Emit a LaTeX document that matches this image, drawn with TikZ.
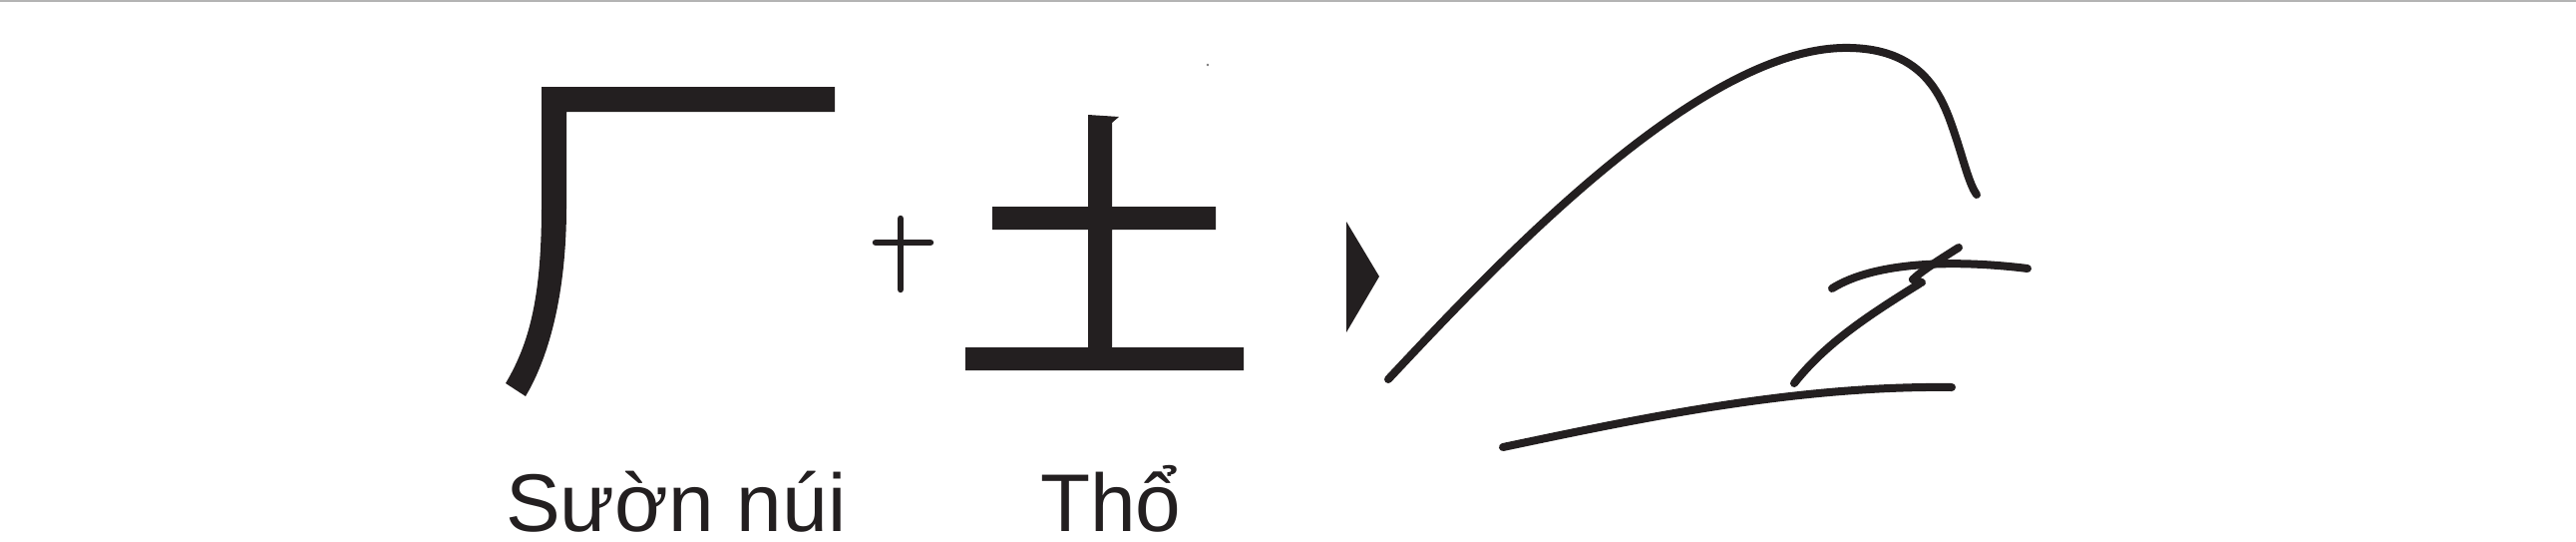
\documentclass[tikz,border=0pt]{standalone}
\usepackage{fontspec}
\setmainfont{Liberation Sans}
\definecolor{ink}{HTML}{231F20}
\definecolor{rule}{HTML}{B4B4B4}
\tikzset{
  glyph/.style={fill=ink, draw=none},
  pen/.style={draw=ink, line width=8pt, line cap=round, line join=round},
  label/.style={font=\fontsize{82}{90}\selectfont, text=ink, inner sep=0pt, anchor=base west},
}
\begin{document}
\begin{tikzpicture}[x=1pt, y=-1pt]
\useasboundingbox (0,0) rectangle (2583,542);
% top rule
\fill[rule] (0,0) rectangle (2583,2);
% radical (cliff)
\fill[glyph] (543,87) -- (837,87) -- (837,112) -- (568,112) -- (568,207)
  .. controls (568,290) and (552,355) .. (527,397)
  -- (507,384)
  .. controls (530,345) and (543,300) .. (543,207) -- cycle;
% plus
\draw[pen, line width=6.5pt] (878,243) -- (933,243);
\draw[pen, line width=6.5pt] (903,219) -- (903,290);
% earth character
\fill[glyph] (1091,115) -- (1122,117) -- (1115,123) -- (1115,207) -- (1219,207) -- (1219,230)
  -- (1115,230) -- (1115,348) -- (1247,348) -- (1247,371) -- (968,371) -- (968,348)
  -- (1091,348) -- (1091,230) -- (995,230) -- (995,207) -- (1091,207) -- cycle;
% speck
\fill[ink!60] (1211,65) circle (1.3);
% triangle
\fill[glyph] (1350,222) -- (1383,277) -- (1350,333) -- cycle;
% big mountain curve
\draw[pen] (1392,380) .. controls (1500,265) and (1700,52) .. (1847,48)
  .. controls (1935,46) and (1950,105) .. (1962,140)
  .. controls (1970,165) and (1975,185) .. (1982,195);
% small cross strokes
\draw[pen] (1837,289) .. controls (1880,262) and (1960,260) .. (2033,269);
\draw[pen] (1964,248) .. controls (1945,260) and (1926,272) .. (1918,280) -- (1927,283);
\draw[pen] (1925,284) .. controls (1870,318) and (1830,345) .. (1799,384);
% ground line
\draw[pen] (1507,448) .. controls (1640,420) and (1800,386) .. (1957,388);
% labels
\node[label] (t1) at (507,532) {Sườn núi};
\node[label] (t2) at (1043,532) {Thổ};
\end{tikzpicture}
\end{document}
